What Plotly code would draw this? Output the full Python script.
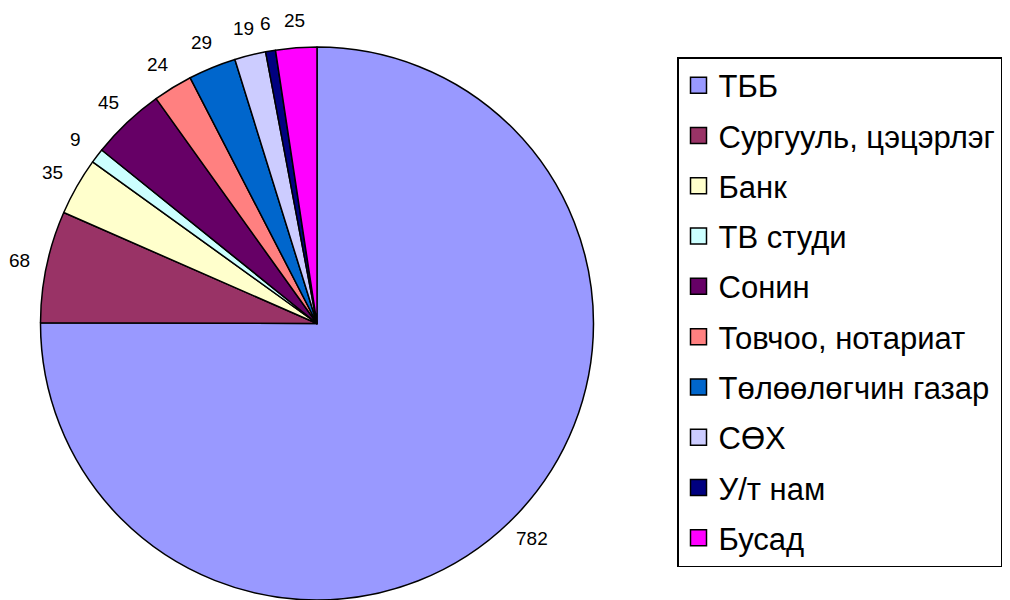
import math
import plotly.graph_objects as go

labels = ["ТББ", "Сургууль, цэцэрлэг", "Банк", "ТВ студи", "Сонин",
          "Товчоо, нотариат", "Төлөөлөгчин газар", "СӨХ", "У/т нам", "Бусад"]
values = [782, 68, 35, 9, 45, 24, 29, 19, 6, 25]
colors = ["#9999FF", "#993366", "#FFFFCC", "#CCFFFF", "#660066",
          "#FF8080", "#0066CC", "#CCCCFF", "#000080", "#FF00FF"]

FONT = "Arial, Liberation Sans, sans-serif"
W, H = 1002, 592   # page body adds an 8px margin
OFF = 8


def px_x(X):
    return (X - OFF) / W


def px_y(Y):
    return 1 - (Y - OFF) / H


dom_x = [px_x(40), px_x(594)]
dom_y = [0, px_y(47)]

fig = go.Figure()
fig.add_trace(go.Pie(
    labels=labels, values=values, sort=False, direction="clockwise", rotation=0,
    marker=dict(colors=colors, line=dict(color="black", width=1.5)),
    textinfo="none",
    showlegend=False, hoverinfo="label+value", automargin=False,
    domain=dict(x=dom_x, y=dom_y),
))

# value labels placed just outside each slice, at its mid angle
cx = W * (dom_x[0] + dom_x[1]) / 2
cy = H * (dom_y[0] + dom_y[1]) / 2
r = min(W * (dom_x[1] - dom_x[0]), H * (dom_y[1] - dom_y[0])) / 2
total = sum(values)
cum = 0
for v in values:
    mid = (cum + v / 2) / total * 2 * math.pi
    cum += v
    d = r * 1.1
    ax = (cx + d * math.sin(mid)) / W
    ay = (cy + d * math.cos(mid)) / H
    fig.add_annotation(x=ax, y=ay, xref="paper", yref="paper", text=str(v),
                       showarrow=False, xanchor="center", yanchor="middle",
                       font=dict(family=FONT, size=19, color="black"))

for lab, col in zip(labels, colors):
    fig.add_trace(go.Scatter(
        x=[None], y=[None], mode="markers", name=lab, legendgroup=lab,
        marker=dict(symbol="square", size=16, color=col,
                    line=dict(color="black", width=1.5)),
    ))

fig.update_layout(
    width=W, height=H,
    margin=dict(l=0, r=0, t=0, b=0, autoexpand=False),
    paper_bgcolor="white", plot_bgcolor="white",
    font=dict(family=FONT, color="black"),
    xaxis=dict(visible=False), yaxis=dict(visible=False),
    legend=dict(
        x=px_x(677), y=px_y(57), xanchor="left", yanchor="top",
        font=dict(family=FONT, size=31, color="black"),
        bgcolor="white", bordercolor="black", borderwidth=1.5,
        tracegroupgap=7, itemsizing="trace",
    ),
)

fig.write_html("out.html")
